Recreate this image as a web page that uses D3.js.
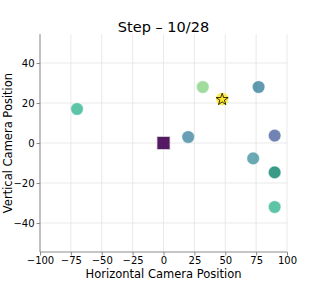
<!DOCTYPE html>
<html>
<head>
<meta charset="utf-8">
<script src="https://cdn.jsdelivr.net/npm/d3@7"></script>
<style>
  body { margin: 0; background: #fff; }
  svg text { font-family: "DejaVu Sans", sans-serif; fill: #000; }
  .grid line { stroke: #e3e3e3; stroke-width: 0.8; }
  .axis path, .axis line { stroke: #8c8c8c; }
</style>
</head>
<body>
<svg width="319" height="284"></svg>
<script>
// camera positions
var camX = [20, 31.8, 77, 90, 72.6, 90, 90, 90, -70];
var camY = [3, 28, 28, 3.7, -7.7, -14.7, -14.7, -32, 17];
var camColors = ["#2a7695", "#77cd75", "#1b6f8e", "#334e93", "#2a8695", "#26907a", "#26907a", "#19ab83", "#19ab83"];
var origin = [0, 0];
var target = [47.5, 22];
var xTicks = [-100, -75, -50, -25, 0, 25, 50, 75, 100];
var yTicks = [-40, -20, 0, 20, 40];

var svg = d3.select("svg"),
    margin = {top: 34, right: 32, bottom: 32, left: 40},
    width = +svg.attr("width") - margin.left - margin.right,
    height = +svg.attr("height") - margin.top - margin.bottom;

var x = d3.scaleLinear().domain([-100, 100]).range([0, width]),
    y = d3.scaleLinear().domain([-54.5, 54.5]).range([height, 0]);

var g = svg.append("g")
    .attr("transform", "translate(" + margin.left + "," + margin.top + ")");

// grid
g.append("g").attr("class", "grid")
  .selectAll("line").data(xTicks).enter().append("line")
    .attr("x1", function(d) { return x(d); }).attr("x2", function(d) { return x(d); })
    .attr("y1", 0).attr("y2", height);
g.append("g").attr("class", "grid")
  .selectAll("line").data(yTicks).enter().append("line")
    .attr("y1", function(d) { return y(d); }).attr("y2", function(d) { return y(d); })
    .attr("x1", 0).attr("x2", width);

var fmt = function(d) { return d < 0 ? "\u2212" + Math.abs(d) : d; };

var xa = g.append("g")
    .attr("class", "axis")
    .attr("transform", "translate(0," + height + ")")
    .call(d3.axisBottom(x).tickValues(xTicks).tickFormat(fmt).tickSize(3.5).tickPadding(1));
xa.selectAll("text").style("font-size", "10px");
xa.select(".domain").attr("d", "M0,0H" + width);

var ya = g.append("g")
    .attr("class", "axis")
    .call(d3.axisLeft(y).tickValues(yTicks).tickFormat(fmt).tickSize(3.5).tickPadding(2));
ya.selectAll("text").style("font-size", "10px");
ya.select(".domain").attr("d", "M0," + height + "V0");

// points
g.selectAll(".cam")
  .data(camX.map(function(d, i) { return {x: d, y: camY[i], c: camColors[i]}; }))
  .enter().append("circle")
    .attr("class", "cam")
    .attr("cx", function(d) { return x(d.x); })
    .attr("cy", function(d) { return y(d.y); })
    .attr("r", 6.3)
    .attr("fill", function(d) { return d.c; })
    .attr("fill-opacity", 0.7)
    .attr("stroke", "#fff")
    .attr("stroke-width", 0.8)
    .attr("stroke-opacity", 0.6);

// origin square
g.append("rect")
    .attr("x", x(origin[0]) - 6.5)
    .attr("y", y(origin[1]) - 6.5)
    .attr("width", 13).attr("height", 13)
    .attr("fill", "#440154")
    .attr("fill-opacity", 0.9)
    .attr("stroke", "#ddd")
    .attr("stroke-width", 0.8);

// target
g.append("circle")
    .attr("cx", x(target[0])).attr("cy", y(target[1]))
    .attr("r", 6.3)
    .attr("fill", "#fde725").attr("fill-opacity", 0.8);
g.append("path")
    .attr("d", d3.symbol().type(d3.symbolStar).size(45)())
    .attr("transform", "translate(" + x(target[0]) + "," + (y(target[1]) + 0.5) + ")")
    .attr("fill", "#fde725")
    .attr("stroke", "#000")
    .attr("stroke-width", 0.8);

// labels
svg.append("text")
    .attr("x", margin.left + width / 2).attr("y", 32)
    .attr("text-anchor", "middle")
    .style("font-size", "14.5px")
    .text("Step \u2013 10/28");

svg.append("text")
    .attr("x", margin.left + width / 2).attr("y", 278)
    .attr("text-anchor", "middle")
    .style("font-size", "11.5px")
    .text("Horizontal Camera Position");

svg.append("text")
    .attr("transform", "translate(12," + (margin.top + height / 2) + ") rotate(-90)")
    .attr("text-anchor", "middle")
    .style("font-size", "11.5px")
    .text("Vertical Camera Position");
</script>
</body>
</html>
